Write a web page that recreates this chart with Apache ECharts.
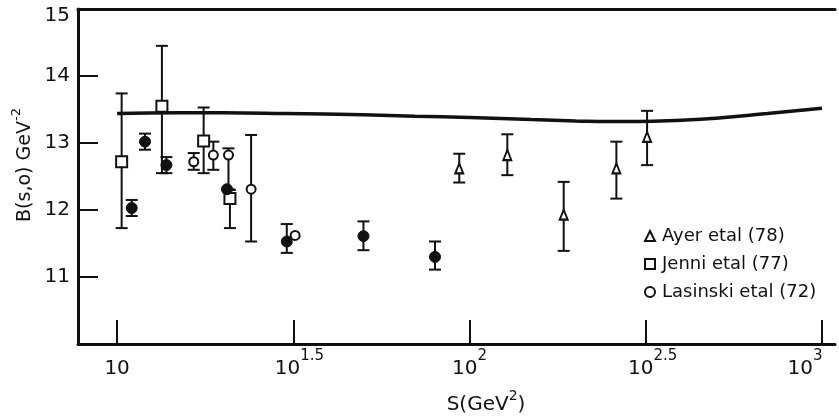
<!DOCTYPE html>
<html>
<head>
<meta charset="utf-8">
<script src="https://cdn.jsdelivr.net/npm/echarts@6/dist/echarts.min.js"></script>
<style>
html,body{margin:0;padding:0;background:#fff;}
#c{width:839px;height:418px;}
</style>
</head>
<body>
<div id="c"></div>
<script>
// ---- data ----
var tickS = [10, 31.6228, 100, 316.228, 1000];
var tickBase = ['10', '10', '10', '10', '10'];
var tickSup = ['', '1.5', '2', '2.5', '3'];

// Ayer et al (78) - open triangles
var ayerS  = [93.5, 128, 185, 261, 319];
var ayerB  = [12.62, 12.82, 11.93, 12.62, 13.09];
var ayerLo = [12.41, 12.52, 11.39, 12.17, 12.67];
var ayerHi = [12.84, 13.13, 12.42, 13.02, 13.48];

// Jenni et al (77) - open squares
var jenniS  = [10.3, 13.4, 17.6, 20.9];
var jenniB  = [12.72, 13.55, 13.03, 12.17];
var jenniLo = [11.73, 12.55, 12.55, 11.73];
var jenniHi = [13.74, 14.45, 13.53, 12.30];

// Lasinski et al (72) - open circles
var lasS  = [16.5, 18.75, 20.7, 24.0, 32.0];
var lasB  = [12.72, 12.82, 12.82, 12.31, 11.62];
var lasLo = [12.60, 12.60, 12.31, 11.53, 11.62];
var lasHi = [12.85, 13.02, 12.92, 13.12, 11.62];

// filled circles
var dotS  = [11.0, 12.0, 13.8, 20.5, 30.3, 50.0, 79.8];
var dotB  = [12.03, 13.02, 12.67, 12.31, 11.53, 11.61, 11.30];
var dotLo = [11.91, 12.90, 12.55, 12.31, 11.36, 11.40, 11.11];
var dotHi = [12.15, 13.14, 12.79, 12.31, 11.79, 11.83, 11.53];

// theory curve
var curveS = [10, 15, 20, 30, 50, 70, 100, 150, 200, 250, 300, 400, 500, 700, 1000];
var curveB = [13.44, 13.45, 13.45, 13.44, 13.42, 13.40, 13.38, 13.35, 13.33, 13.32, 13.32, 13.34, 13.37, 13.44, 13.52];

var yTicks = [11, 12, 13, 14, 15];

// ---- layout (label offsets, not data) ----
var tickPadL = [0, 12, 0, 14, 0];
var tickPadR = [0, 0, 0, 0, 34];

function zip2(a, b){ return a.map(function(v,i){ return [v, b[i]]; }); }
function zip3(a, b, c){ return a.map(function(v,i){ return [v, b[i], c[i]]; }); }

var errData = [].concat(
  zip3(ayerS, ayerLo, ayerHi),
  zip3(jenniS, jenniLo, jenniHi),
  zip3(lasS, lasLo, lasHi),
  zip3(dotS, dotLo, dotHi)
).filter(function(d){ return d[2] > d[1]; });

var FONT = 'DejaVu Sans';
var INK = '#111';
var xMin = Math.pow(10, 0.889), xMax = Math.pow(10, 3.037);

var xRich = {};
tickS.forEach(function(t, k){
  xRich['b' + k] = {fontFamily: FONT, fontSize: 20, color: INK, lineHeight: 40, padding: [0, 0, 0, tickPadL[k]]};
  xRich['s' + k] = {fontFamily: FONT, fontSize: 15, color: INK, lineHeight: 17, verticalAlign: 'top', padding: [0, tickPadR[k], 0, 0]};
});

var chart = echarts.init(document.getElementById('c'), null, {renderer:'canvas'});
chart.setOption({
  animation: false,
  backgroundColor: '#fff',
  grid: {left: 78, right: 4, top: 9, bottom: 74, containLabel: false, outerBoundsMode: 'none'},
  legend: {
    orient: 'vertical', left: 639, top: 222,
    itemWidth: 10, itemHeight: 10, itemGap: 10,
    data: ['Ayer etal (78)', 'Jenni etal (77)', 'Lasinski etal (72)'],
    textStyle: {fontFamily: FONT, fontSize: 18, color: INK, lineHeight: 18, padding: [0,0,0,2]}
  },
  xAxis: [{
    type: 'log', logBase: 10, min: xMin, max: xMax,
    axisLine: {show: true, lineStyle: {color: INK, width: 3}},
    axisTick: {show: true, inside: true, length: 24, lineStyle: {color: INK, width: 2}, customValues: tickS},
    axisLabel: {
      show: true, margin: 5, customValues: tickS,
      formatter: function(v){
        var i = 0, best = 1e9;
        tickS.forEach(function(t, k){ var d = Math.abs(Math.log10(t) - Math.log10(v)); if (d < best){ best = d; i = k; } });
        return '{b' + i + '|' + tickBase[i] + '}' + (tickSup[i] ? '{s' + i + '|' + tickSup[i] + '}' : '');
      },
      rich: xRich
    },
    splitLine: {show: false}, minorTick: {show: false}
  }, {
    type: 'log', logBase: 10, min: xMin, max: xMax, position: 'top',
    axisLine: {show: true, lineStyle: {color: INK, width: 3}},
    axisTick: {show: false}, axisLabel: {show: false}, splitLine: {show: false}
  }],
  yAxis: {
    type: 'value', min: 10, max: 15, interval: 1,
    axisLine: {show: true, lineStyle: {color: INK, width: 3}},
    axisTick: {show: true, inside: true, length: 20, lineStyle: {color: INK, width: 2}},
    axisLabel: {
      margin: 8, fontFamily: FONT, fontSize: 20, color: INK,
      formatter: function(v){
        if (yTicks.indexOf(v) < 0) return '';
        return v === yTicks[yTicks.length - 1] ? '{t|' + v + '}' : String(v);
      },
      rich: {t: {fontFamily: FONT, fontSize: 20, color: INK, padding: [13, 0, 0, 0]}}
    },
    splitLine: {show: false}
  },
  graphic: [{
    type: 'text', x: 25, y: 165, rotation: Math.PI / 2,
    style: {
      text: '{a|B(s,o) GeV}{s|-2}', align: 'center', verticalAlign: 'middle',
      rich: {
        a: {fontFamily: FONT, fontSize: 19, fill: INK, lineHeight: 30},
        s: {fontFamily: FONT, fontSize: 13, fill: INK, verticalAlign: 'top', lineHeight: 14}
      }
    }
  }, {
    type: 'text', x: 486, y: 405,
    style: {
      text: '{a|S(GeV}{s|2}{a|)}', align: 'center', verticalAlign: 'middle',
      rich: {
        a: {fontFamily: FONT, fontSize: 20, fill: INK, lineHeight: 32},
        s: {fontFamily: FONT, fontSize: 14, fill: INK, verticalAlign: 'top', lineHeight: 15}
      }
    }
  }],
  series: [{
    type: 'line', name: 'theory', data: zip2(curveS, curveB), smooth: true,
    showSymbol: false, symbol: 'none', lineStyle: {color: INK, width: 3.5}, z: 1
  }, {
    type: 'custom', name: 'err', data: errData, z: 2,
    encode: {x: 0, y: [1, 2]},
    renderItem: function(params, api){
      var x = api.value(0), lo = api.value(1), hi = api.value(2);
      var pLo = api.coord([x, lo]), pHi = api.coord([x, hi]);
      var hw = 6, st = {stroke: INK, lineWidth: 2};
      return {type: 'group', children: [
        {type: 'line', shape: {x1: pLo[0], y1: pLo[1], x2: pHi[0], y2: pHi[1]}, style: st},
        {type: 'line', shape: {x1: pLo[0]-hw, y1: pLo[1], x2: pLo[0]+hw, y2: pLo[1]}, style: st},
        {type: 'line', shape: {x1: pHi[0]-hw, y1: pHi[1], x2: pHi[0]+hw, y2: pHi[1]}, style: st}
      ]};
    }
  }, {
    type: 'scatter', name: 'Ayer etal (78)', data: zip2(ayerS, ayerB), z: 5,
    symbol: 'triangle', symbolSize: [8, 10],
    itemStyle: {color: '#fff', borderColor: INK, borderWidth: 2, opacity: 1}
  }, {
    type: 'scatter', name: 'Jenni etal (77)', data: zip2(jenniS, jenniB), z: 5,
    symbol: 'rect', symbolSize: 11,
    itemStyle: {color: '#fff', borderColor: INK, borderWidth: 2, opacity: 1}
  }, {
    type: 'scatter', name: 'Lasinski etal (72)', data: zip2(lasS, lasB), z: 5,
    symbol: 'circle', symbolSize: 9,
    itemStyle: {color: '#fff', borderColor: INK, borderWidth: 2, opacity: 1}
  }, {
    type: 'scatter', name: 'filled', data: zip2(dotS, dotB), z: 5,
    symbol: 'circle', symbolSize: 11,
    itemStyle: {color: INK, borderColor: INK, borderWidth: 1, opacity: 1}
  }]
});
</script>
</body>
</html>
